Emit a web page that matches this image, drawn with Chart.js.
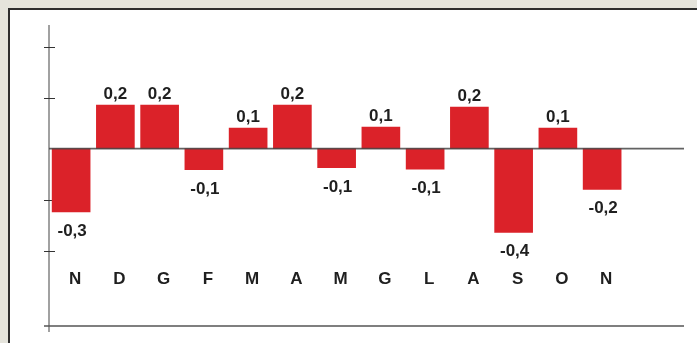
<!DOCTYPE html>
<html>
<head>
<meta charset="utf-8">
<script src="https://cdn.jsdelivr.net/npm/chart.js@4/dist/chart.umd.min.js"></script>
<style>
  html, body { margin: 0; padding: 0; }
  body { width: 697px; height: 343px; background: #e5e4dc; overflow: hidden; position: relative; }
  #panel {
    position: absolute; left: 8px; top: 8px; width: 700px; height: 350px;
    background: #fff; border-left: 2px solid #2e2e2e; border-top: 2px solid #2e2e2e;
  }
  #wrap { position: absolute; left: 0; top: 0; width: 697px; height: 343px; }
</style>
</head>
<body>
<div id="panel"></div>
<div id="wrap"><canvas id="chart" width="697" height="343"></canvas></div>
<script>
// mesi
var months = ['N', 'D', 'G', 'F', 'M', 'A', 'M', 'G', 'L', 'A', 'S', 'O', 'N'];
// valori
var values = [-0.31, 0.214, 0.214, -0.103, 0.101, 0.214, -0.093, 0.106, -0.10, 0.204, -0.41, 0.101, -0.20];
// tacche asse y
var tickValues = [0.5, 0.25, 0, -0.25, -0.5];

var fontBold = 'bold 17px "Liberation Sans", Arial, sans-serif';

// assi, tacche, etichette
var decorPlugin = {
  id: 'decor',
  beforeDatasetsDraw: function(chart) {
    var c = chart.ctx, a = chart.chartArea, y = chart.scales.y;
    c.save();
    // asse verticale
    c.strokeStyle = '#8a8a8a';
    c.lineWidth = 1.6;
    c.beginPath();
    c.moveTo(a.left, a.top);
    c.lineTo(a.left, a.bottom + 6);
    c.stroke();
    // tacche
    c.strokeStyle = '#333';
    c.lineWidth = 1;
    tickValues.forEach(function(t) {
      if (t === 0) return;
      var py = Math.round(y.getPixelForValue(t)) + 0.5;
      c.beginPath();
      c.moveTo(a.left - 5, py);
      c.lineTo(a.left + 6, py);
      c.stroke();
    });
    // linea di base in basso
    c.strokeStyle = '#555';
    c.lineWidth = 1.5;
    c.beginPath();
    c.moveTo(a.left - 5, a.bottom);
    c.lineTo(a.right, a.bottom);
    c.stroke();
    c.restore();
  },
  afterDatasetsDraw: function(chart) {
    var c = chart.ctx, a = chart.chartArea, y = chart.scales.y;
    var zero = y.getPixelForValue(0);
    c.save();
    // linea dello zero
    c.strokeStyle = 'rgba(70,70,70,0.85)';
    c.lineWidth = 1.6;
    c.beginPath();
    c.moveTo(a.left, zero);
    c.lineTo(a.right, zero);
    c.stroke();
    // etichette valori
    c.font = fontBold;
    c.fillStyle = '#1f1f1f';
    c.textAlign = 'center';
    c.textBaseline = 'alphabetic';
    chart.getDatasetMeta(0).data.forEach(function(bar, i) {
      var v = values[i];
      var txt = v.toFixed(1).replace('.', ',');
      if (v >= 0) {
        c.fillText(txt, bar.x, bar.y - 6);
      } else {
        c.fillText(txt, bar.x + 1, bar.y + 24);
      }
      // mesi
      c.fillText(months[i], bar.x + 4, 284);
    });
    c.restore();
  }
};

var points = values.map(function(v, i) { return {x: i, y: v}; });

var ctx = document.getElementById('chart');
var myChart = new Chart(ctx, {
  type: 'bar',
  data: {
    datasets: [{
      data: points,
      backgroundColor: '#db2229',
      borderWidth: 0,
      barThickness: 38,
    }],
  },
  options: {
    responsive: false,
    animation: false,
    events: [],
    layout: {
      padding: { left: 49, top: 25, right: 13, bottom: 17 },
    },
    scales: {
      x: {
        type: 'linear',
        display: false,
        offset: false,
        min: -0.5,
        max: 13.85,
      },
      y: {
        display: false,
        min: -0.869,
        max: 0.606,
      },
    },
    plugins: {
      legend: { display: false },
      tooltip: { enabled: false },
    },
  },
  plugins: [decorPlugin],
});
</script>
</body>
</html>
